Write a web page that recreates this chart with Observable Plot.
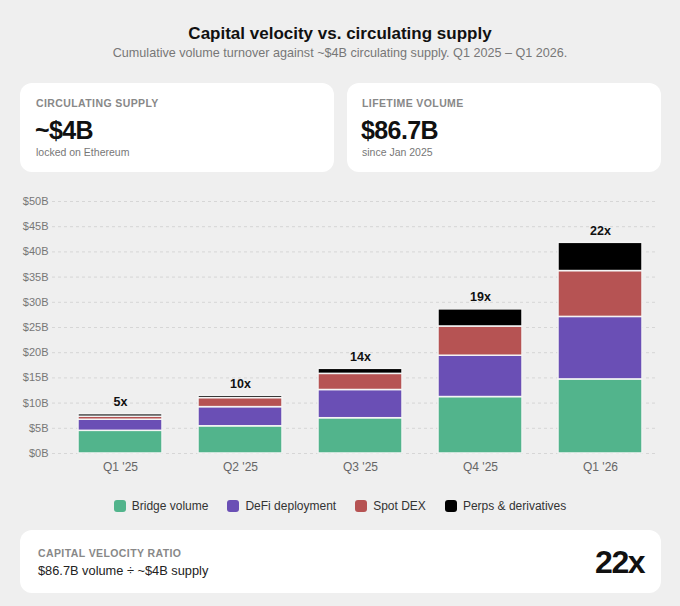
<!DOCTYPE html>
<html>
<head>
<meta charset="utf-8">
<script src="https://cdn.jsdelivr.net/npm/d3@7"></script>
<script src="https://cdn.jsdelivr.net/npm/@observablehq/plot@0.6"></script>
<style>
  html, body { margin: 0; padding: 0; background: #efefef; }
  body { width: 680px; height: 606px; position: relative; overflow: hidden;
         font-family: "Liberation Sans", Helvetica, Arial, sans-serif; color: #111; }
  .abs { position: absolute; }
  .title { top: 24px; left: 0; width: 680px; text-align: center; font-size: 17px; font-weight: 700; line-height: 20px; color: #111; }
  .subtitle { top: 45px; left: 0; width: 680px; text-align: center; font-size: 12.6px; line-height: 16px; color: #777; }
  .card { background: #fff; border-radius: 12px; }
  .klabel { font-size: 10.5px; font-weight: 700; letter-spacing: 0.4px; color: #888; line-height: 14px; }
  .kval { font-size: 25px; font-weight: 700; color: #111; line-height: 28px; letter-spacing: -0.6px; }
  .ksub { font-size: 10.5px; color: #777; line-height: 14px; }
  #chart { top: 188px; left: 0; }
  .legend { top: 498px; left: 0; width: 680px; display: flex; justify-content: center; font-size: 12px; color: #333; line-height: 16px; }
  .legend .item { display: flex; align-items: center; margin: 0 9.5px; }
  .legend .sw { width: 12px; height: 12px; border-radius: 3px; margin-right: 6px; }
</style>
</head>
<body>
<div class="abs title">Capital velocity vs. circulating supply</div>
<div class="abs subtitle">Cumulative volume turnover against ~$4B circulating supply. Q1 2025 – Q1 2026.</div>

<div class="abs card" style="top:83px;left:20px;width:314px;height:89px;">
  <div class="abs klabel" style="top:13px;left:16px;">CIRCULATING SUPPLY</div>
  <div class="abs kval" style="top:33px;left:15px;">~$4B</div>
  <div class="abs ksub" style="top:62px;left:16px;">locked on Ethereum</div>
</div>
<div class="abs card" style="top:83px;left:347px;width:314px;height:89px;">
  <div class="abs klabel" style="top:13px;left:15px;">LIFETIME VOLUME</div>
  <div class="abs kval" style="top:33px;left:14px;">$86.7B</div>
  <div class="abs ksub" style="top:62px;left:15px;">since Jan 2025</div>
</div>

<div class="abs" id="chart"></div>
<div class="abs legend" id="legend"></div>

<div class="abs card" style="top:530px;left:20px;width:641px;height:63px;">
  <div class="abs klabel" style="top:16px;left:18px;">CAPITAL VELOCITY RATIO</div>
  <div class="abs" style="top:33px;left:18px;font-size:12.8px;color:#222;line-height:16px;">$86.7B volume ÷ ~$4B supply</div>
  <div class="abs" style="top:14px;right:17px;font-size:32px;font-weight:700;color:#111;line-height:36px;letter-spacing:-1.5px;">22x</div>
</div>

<script>
const quarters = ["Q1 '25", "Q2 '25", "Q3 '25", "Q4 '25", "Q1 '26"];
const seriesNames = ["Bridge volume", "DeFi deployment", "Spot DEX", "Perps & derivatives"];
const seriesColors = ["#52b48c", "#6a4fb5", "#b65353", "#000000"];
const bridge = [4.5, 5.4, 7.0, 11.2, 14.7];
const defi = [2.2, 3.8, 5.6, 8.2, 12.4];
const spot = [0.6, 1.8, 3.2, 5.8, 9.1];
const perps = [0.5, 0.45, 1.0, 3.4, 5.6];
const ratios = ["5x", "10x", "14x", "19x", "22x"];
const yTicks = [0, 5, 10, 15, 20, 25, 30, 35, 40, 45, 50];

const seriesValues = [bridge, defi, spot, perps];
const rows = [];
quarters.forEach((q, i) => {
  seriesNames.forEach((s, j) => rows.push({quarter: q, series: s, value: seriesValues[j][i]}));
});
const totals = quarters.map((q, i) => ({
  quarter: q,
  total: seriesValues.reduce((a, arr) => a + arr[i], 0),
  ratio: ratios[i]
}));

const chart = Plot.plot({
  width: 680,
  height: 295,
  marginLeft: 59,
  marginRight: 19,
  marginTop: 13,
  marginBottom: 30,
  style: {background: "transparent", fontFamily: "'Liberation Sans', Helvetica, Arial, sans-serif"},
  x: {domain: quarters, paddingInner: 0.3, paddingOuter: 0.15, label: null},
  y: {domain: [0, 50], label: null},
  color: {domain: seriesNames, range: seriesColors},
  marks: [
    Plot.ruleY(yTicks, {stroke: "#d6d6d6", strokeDasharray: "3,3", strokeWidth: 1, insetLeft: -7, insetRight: 6}),
    Plot.axisY({ticks: yTicks, tickSize: 0, tickPadding: 11, tickFormat: d => `$${d}B`, fill: "#777", fontSize: 11, label: null}),
    Plot.axisX({tickSize: 0, tickPadding: 9, fill: "#666", fontSize: 12, label: null}),
    Plot.barY(rows, {x: "quarter", y: "value", fill: "series", stroke: "#f4f4f4", strokeWidth: 1.5}),
    Plot.text(totals, {x: "quarter", y: "total", text: "ratio", dy: -12, fontWeight: 700, fontSize: 12.5, fill: "#111"})
  ]
});
document.getElementById("chart").appendChild(chart);

const legend = document.getElementById("legend");
seriesNames.forEach((s, j) => {
  const item = document.createElement("div");
  item.className = "item";
  const sw = document.createElement("span");
  sw.className = "sw";
  sw.style.background = seriesColors[j];
  const t = document.createElement("span");
  t.textContent = s;
  item.appendChild(sw);
  item.appendChild(t);
  legend.appendChild(item);
});
</script>
</body>
</html>
